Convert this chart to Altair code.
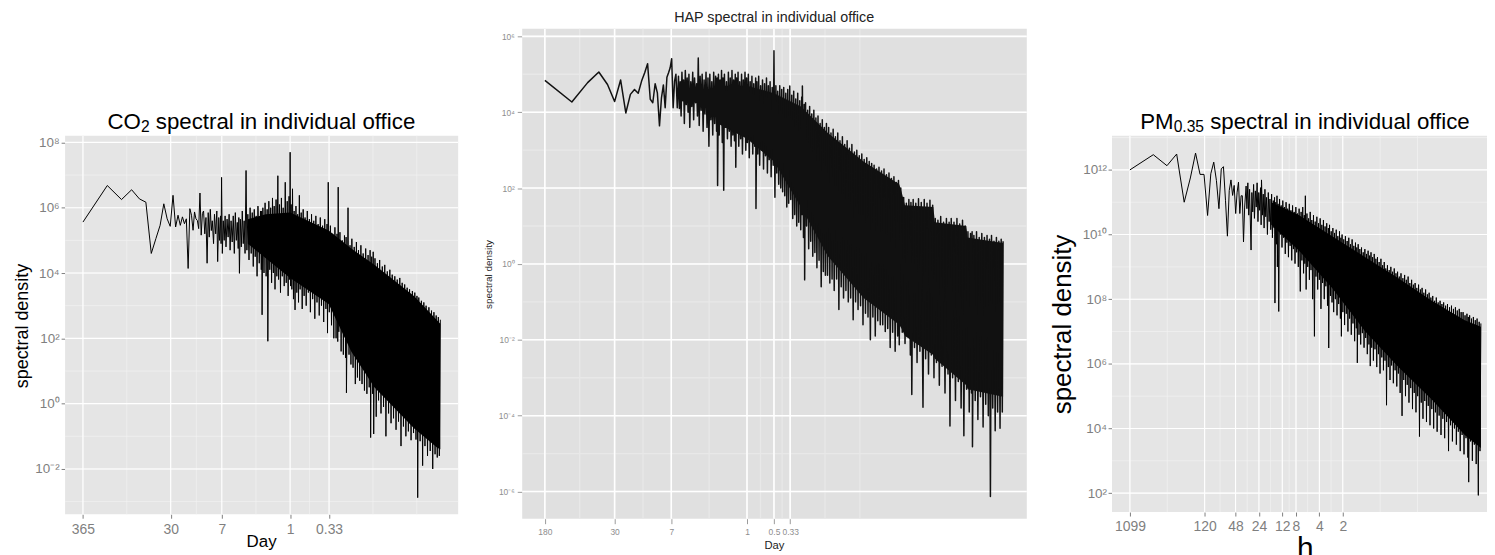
import math
import altair as alt
import pandas as pd

FONT = "Liberation Sans"
W, H = 1487, 547          # drawing area = window minus the 8px page margin
GREY50 = "#7F7F7F"

# ====================== DATA ======================
# Spectral densities are read off the log axes, so they are stored as log10 exponents.

# --- CO2 panel: frequency in cycles/day ---
co2_freq = [0.00274, 0.00548, 0.00822, 0.01096, 0.0137, 0.01644, 0.01918, 0.02192, 0.02466, 0.0274,
            0.03014, 0.03288, 0.03562, 0.03836, 0.0411, 0.04384, 0.04658, 0.04932, 0.05205, 0.05479,
            0.05753, 0.06027, 0.06301, 0.06575, 0.06849, 0.07123, 0.07397, 0.07671, 0.07945, 0.08219,
            0.085, 0.088, 0.091, 0.094, 0.097, 0.1, 0.103, 0.106, 0.109, 0.113,
            0.116, 0.12, 0.124, 0.127, 0.131, 0.134, 0.138, 0.14, 0.142, 0.145,
            0.149, 0.153, 0.157, 0.161, 0.166, 0.171, 0.176, 0.181, 0.186, 0.192,
            0.198, 0.204, 0.21, 0.216, 0.222, 0.228, 0.232, 0.236, 0.242, 0.249,
            0.256, 0.263, 0.27, 0.277, 0.285, 0.292,
            0.3, 0.31, 0.32, 0.33, 0.34, 0.35, 0.36, 0.37, 0.38, 0.39,
            0.4, 0.415, 0.43, 0.44, 0.445, 0.45, 0.46, 0.475, 0.49, 0.505,
            0.52, 0.53, 0.545, 0.56, 0.575, 0.59, 0.605, 0.62, 0.635, 0.65,
            0.67, 0.685, 0.705, 0.72, 0.74, 0.76, 0.78, 0.8, 0.82, 0.845,
            0.87, 0.895, 0.92, 0.945, 0.97, 0.985, 1.0, 1.015,
            1.03, 1.05, 1.07, 1.1, 1.12, 1.15, 1.18, 1.21, 1.24, 1.27,
            1.3, 1.33, 1.37, 1.41, 1.45, 1.49, 1.53, 1.58, 1.63, 1.68,
            1.73, 1.78, 1.84, 1.9, 1.96, 2.02, 2.08, 2.15, 2.22, 2.29,
            2.36, 2.44, 2.52, 2.6, 2.68, 2.77, 2.86, 2.9, 2.96, 3.05,
            3.15, 3.25, 3.36, 3.47, 3.58, 3.7, 3.8, 3.88, 3.93, 4.0,
            4.13, 4.27, 4.41, 4.55, 4.7, 4.85, 4.92, 4.97, 5.2, 5.35,
            5.5, 5.65, 5.8, 6.0, 6.2, 6.4, 6.6, 6.8, 7.0, 7.25,
            7.5, 7.75, 8.0, 8.3, 8.6, 8.9, 9.2, 9.5, 9.75, 9.9,
            10.2, 10.5, 10.65, 10.8,
            11.2, 11.6, 12.0, 12.4, 12.8, 13.3, 13.8, 14.3, 14.8, 15.3,
            15.9, 16.5, 17.1, 17.7, 18.3, 19.0, 19.7, 20.4, 21.1, 21.9,
            22.7, 23.5, 24.3, 25.2, 26.1, 27.0, 28.0, 29.0, 30.0, 31.3,
            32.5, 33.6, 34.8, 36.0, 37.0, 37.8, 39.0, 40.5, 42.0, 43.5,
            45.0, 46.5, 48.0, 50.0, 52.0, 54.0, 56.0, 58.0, 60.0, 62.0,
            64.0, 66.0, 68.0, 70.0, 72.0]
co2_log_psd = [5.56, 6.68, 6.25, 6.55, 6.27, 6.17, 4.60, 5.06, 5.46, 6.12,
               5.66, 5.43, 6.38, 5.41, 5.77, 5.46, 5.72, 5.51, 5.66, 4.14,
               5.97, 5.77, 5.31, 5.87, 5.66, 5.61, 5.36, 6.45, 5.16, 5.82,
               5.9, 5.2, 5.7, 4.3, 5.85, 5.1, 5.95, 5.3, 5.6, 4.9,
               5.8, 5.2, 5.9, 4.35, 5.7, 5.0, 5.75, 4.9, 6.93, 4.6,
               5.6, 5.0, 5.75, 4.8, 5.65, 5.1, 5.8, 4.7, 5.6, 4.95,
               5.75, 4.6, 5.85, 5.0, 5.55, 4.75, 5.7, 3.99, 5.65, 4.8,
               5.9, 4.9, 5.6, 4.6, 7.14, 4.7,
               5.8, 4.4, 6.0, 4.6, 5.85, 4.2, 5.95, 4.5, 5.75, 3.9,
               6.05, 4.3, 5.9, 4.1, 5.9, 2.72, 6.0, 4.0, 6.15, 3.9,
               5.95, 1.91, 6.2, 4.1, 6.0, 3.7, 6.3, 4.0, 6.05, 3.5,
               6.25, 3.9, 6.98, 3.8, 6.1, 3.4, 6.3, 3.9, 6.0, 3.6,
               6.78, 3.7, 6.2, 3.3, 6.35, 3.8, 7.7, 3.6,
               6.1, 3.5, 6.58, 3.2, 5.9, 2.87, 6.05, 3.4, 5.8, 3.1,
               6.38, 3.5, 5.85, 2.9, 5.95, 3.3, 5.7, 3.0, 5.9, 3.4,
               5.65, 2.8, 5.8, 3.2, 5.6, 2.6, 5.75, 3.1, 5.5, 2.7,
               5.7, 3.0, 5.45, 2.5, 5.65, 2.9, 5.5, 2.16, 6.78, 2.8,
               5.45, 2.4, 5.2, 2.0, 5.4, 2.0, 5.2, 1.9, 6.63, 2.2,
               5.25, 1.6, 5.0, 1.5, 5.15, 1.4, 5.1, 0.33, 6.0, 1.5,
               4.85, 1.2, 5.05, 1.1, 4.8, 0.6, 4.95, 0.8, 4.7, 0.7,
               4.85, 0.6, 4.6, 0.4, 4.75, 0.3, 4.55, 0.5, 4.7, -1.04,
               4.5, 0.3, 4.65, -0.93,
               4.45, -0.4, 4.3, 0.1, 4.4, -0.3, 4.2, -0.1, 4.25, -1.0,
               4.05, -0.3, 4.1, -0.6, 3.95, -0.45, 3.9, -0.8, 3.8, -0.55,
               3.85, -1.3, 3.7, -0.7, 3.65, -1.0, 3.55, -0.85, 3.5, -1.12,
               3.45, -0.9, 3.4, -1.1, 3.3, -2.88, 3.25, -1.15, 3.15, -1.9,
               3.1, -1.3, 3.0, -1.6, 2.95, -1.45, 2.85, -2.0, 2.8, -1.55,
               2.7, -1.65, 2.65, -1.6, 2.57]
co2_band_freq = [0.3, 0.5, 1.0, 3.0, 5.7, 11, 34, 66, 72]
co2_band_log_top = [5.65, 5.8, 5.85, 5.3, 4.75, 4.25, 3.3, 2.55, 2.45]
co2_band_log_bottom = [4.9, 4.45, 3.85, 3.05, 1.6, 0.5, -0.75, -1.35, -1.4]
co2_tick_days = [365, 30, 7, 1, 0.33]
co2_tick_exp = [-2, 0, 2, 4, 6, 8]

# --- HAP panel: frequency in cycles/day ---
hap_freq = [0.005556, 0.01111, 0.01667, 0.02222, 0.02778, 0.03333, 0.03889, 0.04444, 0.05, 0.05556,
            0.06111, 0.06667, 0.07222, 0.07778, 0.08333, 0.08889, 0.09444, 0.1, 0.1056, 0.1111,
            0.1167, 0.1222, 0.1278, 0.1333, 0.1389, 0.1444, 0.15, 0.1556, 0.1611, 0.1667,
            0.172, 0.176, 0.18, 0.184, 0.188, 0.192, 0.196, 0.2, 0.205, 0.21,
            0.215, 0.22, 0.225, 0.23, 0.236, 0.242, 0.248, 0.254, 0.26, 0.267,
            0.274, 0.28, 0.286, 0.293, 0.3, 0.308, 0.316, 0.324, 0.332, 0.34,
            0.349, 0.358, 0.367, 0.376, 0.385, 0.395, 0.405, 0.415, 0.425, 0.436,
            0.447, 0.458, 0.465, 0.47,
            0.48, 0.49, 0.5, 0.51, 0.52, 0.53, 0.54, 0.55, 0.56, 0.575,
            0.59, 0.605, 0.62, 0.635, 0.65, 0.665, 0.68, 0.695, 0.71, 0.725,
            0.74, 0.75, 0.765, 0.78, 0.795, 0.81, 0.83, 0.85, 0.87, 0.89,
            0.91, 0.93, 0.95, 0.97, 0.99, 1.01, 1.035, 1.06, 1.085, 1.11,
            1.135, 1.16, 1.19, 1.22, 1.25, 1.26, 1.29, 1.32, 1.35, 1.385,
            1.42, 1.455, 1.49, 1.53, 1.57, 1.61, 1.65, 1.69, 1.73, 1.77,
            1.81, 1.86, 1.91, 1.96, 2.0, 2.05,
            2.1, 2.15, 2.2, 2.26, 2.32, 2.38, 2.44, 2.5, 2.57, 2.64,
            2.71, 2.78, 2.85, 2.92, 3.0, 3.08, 3.16, 3.24, 3.32, 3.41,
            3.5, 3.59, 3.68, 3.78, 3.88, 3.98, 4.08, 4.12, 4.15, 4.27,
            4.35, 4.4, 4.5, 4.62, 4.75, 4.88, 5.0, 5.14, 5.28, 5.42,
            5.57, 5.72, 5.87, 6.03, 6.2, 6.37, 6.55, 6.73, 6.92, 7.11,
            7.3, 7.5, 7.7, 7.92,
            8.15, 8.4, 8.65, 8.9, 9.15, 9.4, 9.7, 10.0, 10.3, 10.6,
            10.9, 11.25, 11.6, 11.95, 12.3, 12.7, 13.1, 13.5, 13.9, 14.35,
            14.8, 15.3, 15.8, 16.3, 16.8, 17.35, 17.9, 18.5, 19.1, 19.7,
            20.3, 21.0, 21.7, 22.4, 23.1, 23.8, 24.6, 25.4, 26.2, 27.0,
            27.9, 28.8, 29.7, 30.7, 31.7, 32.7, 33.8, 34.9, 36.0, 37.2,
            38.4, 39.6, 40.9, 42.2, 43.6, 45.0, 46.5, 48.0, 49.0, 50.0,
            52, 54, 56, 58, 60, 62, 64, 66.5, 67.5, 69,
            71.5, 74, 76.5, 79, 82, 85, 88, 92, 95, 98.5,
            102, 106, 110, 114, 118, 122, 126, 130, 135, 140,
            145, 150, 156, 162, 168, 175, 180, 184, 190, 197,
            204, 212, 220, 228, 236, 245, 254, 263, 272, 282,
            292, 302, 312, 320, 325, 328, 340, 352, 364, 377,
            390, 403, 417, 431, 446, 461, 477, 493, 508, 520,
            535, 552, 570, 588, 607, 626, 646, 666, 686, 706,
            720]
hap_log_psd = [4.84, 4.27, 4.78, 5.06, 4.73, 4.28, 4.85, 3.98, 4.47, 4.60,
               4.50, 4.82, 5.04, 5.28, 4.34, 4.25, 4.75, 4.51, 3.64, 4.38,
               4.72, 4.12, 4.92, 5.04, 5.17, 5.41, 4.12, 4.82, 5.0, 4.12,
               4.95, 4.1, 4.8, 3.9, 5.05, 4.3, 4.85, 3.7, 5.1, 4.2,
               4.9, 4.0, 5.0, 3.6, 4.8, 4.15, 5.05, 3.8, 4.9, 4.25,
               4.75, 3.9, 5.43, 3.65, 4.95, 4.05, 5.0, 3.5, 4.85, 3.95,
               5.05, 3.6, 4.9, 3.1, 5.0, 3.8, 4.8, 3.4, 5.05, 3.7,
               4.95, 3.5, 4.9, 2.07,
               5.0, 3.4, 4.85, 3.7, 5.1, 3.2, 4.9, 1.94, 5.0, 3.6,
               4.8, 3.3, 5.05, 3.5, 4.9, 3.1, 5.1, 3.4, 4.85, 3.25,
               5.0, 2.55, 4.9, 3.5, 5.05, 3.1, 4.8, 3.3, 5.0, 2.9,
               4.85, 3.4, 5.05, 3.0, 4.9, 3.2, 5.0, 2.8, 4.8, 3.3,
               4.95, 2.9, 4.75, 3.1, 4.9, 1.46, 4.8, 2.9, 4.95, 2.6,
               4.7, 3.0, 4.85, 2.5, 4.75, 2.85, 4.9, 2.4, 4.7, 2.75,
               4.8, 2.3, 4.65, 2.6, 5.62, 1.76,
               4.7, 2.4, 4.55, 2.1, 4.7, 2.0, 4.6, 1.9, 4.65, 1.8,
               4.5, 1.5, 4.6, 1.6, 4.69, 1.7, 4.45, 1.2, 4.55, 1.3,
               4.35, 1.0, 4.5, 1.1, 4.3, 0.9, 4.4, 1.3, 4.69, 0.7,
               4.2, -0.42, 4.25, 1.0, 4.05, 0.4, 4.15, 0.6, 3.95, 0.2,
               4.05, 0.3, 3.85, -0.1, 3.9, 0.1, 3.7, -0.6, 3.8, -0.2,
               3.6, -0.3, 3.7, -0.3,
               3.6, -0.5, 3.45, -0.4, 3.55, -0.7, 3.35, -0.4, 3.45, -1.2,
               3.25, -0.6, 3.35, -0.9, 3.15, -0.7, 3.25, -1.0, 3.05, -0.9,
               3.15, -1.47, 2.95, -1.0, 3.0, -1.2, 2.85, -1.1, 2.9, -1.6,
               2.75, -1.3, 2.8, -1.4, 2.7, -2.0, 2.65, -1.4, 2.6, -1.9,
               2.5, -1.5, 2.55, -1.6, 2.45, -1.6, 2.5, -1.78, 2.35, -1.7,
               2.4, -2.2, 2.25, -1.8, 2.3, -2.3, 2.15, -1.9, 2.2, -2.13,
               2.0, -1.8, 1.75, -2.1, 1.6, -1.9, 1.7, -2.4, 1.62, -3.44,
               1.7, -2.2, 1.6, -2.6, 1.72, -2.3, 1.62, -3.78, 1.7, -2.5,
               1.6, -2.9, 1.68, -2.4, 1.55, -3.0, 1.2, -2.6, 1.15, -3.2,
               1.25, -2.7, 1.1, -3.4, 1.2, -2.9, 1.1, -4.27, 1.2, -3.0,
               1.1, -3.6, 1.2, -3.1, 1.05, -3.8, 1.15, -4.53, 1.0, -3.3,
               0.85, -3.9, 0.8, -3.4, 0.85, -4.82, 0.75, -3.6, 0.85, -4.1,
               0.7, -3.5, 0.8, -4.3, 0.7, -3.7, 0.75, -4.0, 0.65, -6.13,
               0.75, -3.8, 0.6, -4.4, 0.7, -3.9, 0.6, -4.33, 0.65, -3.9,
               0.6]
hap_band_freq = [0.47, 1.0, 2.0, 4.0, 8.0, 20, 50, 53, 58, 120, 125, 280, 290, 720]
hap_band_log_top = [4.7, 4.7, 4.5, 4.15, 3.45, 2.7, 2.1, 1.9, 1.55, 1.5, 1.1, 1.0, 0.7, 0.55]
hap_band_log_bottom = [3.7, 3.3, 2.7, 1.5, 0.2, -0.9, -1.6, -1.7, -1.9, -2.4, -2.5, -3.2, -3.3, -3.5]
hap_tick_days = [180, 30, 7, 1, 0.5, 0.33]
hap_tick_exp = [-6, -4, -2, 0, 2, 4, 6]

# --- PM0.35 panel: frequency in cycles/hour ---
pm_freq = [0.00091, 0.00182, 0.00273, 0.00364, 0.00455, 0.00546, 0.00637, 0.00728, 0.00819, 0.0091,
           0.01001, 0.01092, 0.01183, 0.01274, 0.01365, 0.01456, 0.01547, 0.01638, 0.01729, 0.0182,
           0.01911, 0.02002, 0.02093, 0.02184, 0.02275, 0.02366, 0.02457, 0.02548, 0.02639, 0.0273,
           0.0285, 0.0292, 0.03, 0.0308, 0.0316, 0.033, 0.0338, 0.0347, 0.0356, 0.0365,
           0.0375, 0.0385, 0.0395, 0.0405, 0.0415, 0.0426, 0.0437, 0.0445, 0.045, 0.0462,
           0.0474, 0.0486, 0.0498, 0.051, 0.0523, 0.0536, 0.055, 0.0564, 0.0578, 0.0592,
           0.0607, 0.0622, 0.0638, 0.0654, 0.0662, 0.067, 0.0686, 0.0703, 0.0712, 0.072,
           0.0735, 0.075, 0.0768, 0.0787, 0.0806, 0.0826, 0.0846, 0.0867, 0.0888, 0.091,
           0.0932, 0.0955, 0.0978, 0.1, 0.1025, 0.105, 0.1076, 0.1102, 0.113, 0.1158,
           0.1186, 0.1215, 0.1245, 0.1276, 0.1307, 0.1339, 0.1372, 0.142,
           0.1455, 0.149, 0.1527, 0.1565, 0.16, 0.1625, 0.165, 0.169, 0.173, 0.177,
           0.1815, 0.186, 0.1905, 0.195, 0.2, 0.205, 0.21, 0.216, 0.221, 0.226,
           0.232, 0.238, 0.244, 0.25, 0.256, 0.262, 0.269, 0.275, 0.282, 0.289,
           0.296, 0.303, 0.311, 0.318, 0.326, 0.33, 0.338, 0.347, 0.355, 0.364,
           0.373, 0.382, 0.392, 0.402, 0.412, 0.422, 0.432, 0.443, 0.454, 0.466,
           0.473, 0.48, 0.49, 0.502, 0.515, 0.528, 0.541, 0.555, 0.569, 0.583,
           0.598, 0.613, 0.628, 0.644, 0.66, 0.677, 0.694, 0.711, 0.729, 0.747,
           0.758, 0.77, 0.79, 0.81, 0.83, 0.851, 0.872, 0.894, 0.917, 0.94,
           0.963, 0.987,
           1.01, 1.035, 1.06, 1.087, 1.11, 1.13, 1.155, 1.18, 1.21, 1.24,
           1.27, 1.3, 1.335, 1.37, 1.4, 1.44, 1.47, 1.51, 1.55, 1.59,
           1.63, 1.67, 1.71, 1.75, 1.79, 1.83, 1.88, 1.93, 1.98, 2.03,
           2.08, 2.13, 2.19, 2.24, 2.3, 2.36, 2.42, 2.48, 2.54, 2.6,
           2.67, 2.74, 2.81, 2.9, 2.97, 3.05, 3.13, 3.21, 3.29, 3.38,
           3.47, 3.56, 3.65, 3.75, 3.85, 3.95, 4.05, 4.16, 4.27, 4.38,
           4.49, 4.61, 4.73, 4.86, 4.99, 5.12, 5.25, 5.39, 5.53, 5.68,
           5.83, 5.98, 6.14, 6.3, 6.47, 6.64, 6.81, 7.0,
           7.2, 7.4, 7.6, 7.8, 8.0, 8.2, 8.45, 8.7, 8.95, 9.2,
           9.45, 9.7, 9.95, 10.25, 10.55, 10.85, 11.15, 11.5, 11.85, 12.2,
           12.55, 12.9, 13.3, 13.7, 14.1, 14.5, 14.9, 15.35, 15.8, 16.25,
           16.7, 17.2, 17.7, 18.2, 18.75, 19.3, 19.85, 20.4, 20.65, 20.9,
           21.5, 22.1, 22.7, 23.3, 24.0, 24.7, 25.4, 26.1, 26.8, 27.8,
           28.5, 29.2, 30.0]
pm_log_psd = [12.0, 12.47, 12.13, 12.49, 11.0, 11.75, 12.52, 11.86, 11.86, 10.59,
              11.88, 12.24, 11.67, 10.8, 12.03, 12.1, 11.06, 9.95, 11.36, 11.69,
              11.21, 11.52, 10.65, 11.31, 11.62, 10.65, 11.2, 11.2, 9.77, 10.85,
              11.5, 10.8, 11.6, 10.6, 11.4, 9.52, 11.3, 10.7, 11.55, 10.5,
              11.35, 10.85, 11.6, 10.4, 11.3, 10.75, 11.45, 10.3, 11.69, 10.6,
              11.25, 10.2, 11.4, 10.55, 11.15, 10.0, 11.3, 10.4, 11.1, 10.15,
              11.25, 9.9, 11.05, 10.2, 11.15, 7.88, 11.0, 9.7, 11.2, 9.0,
              10.95, 7.62, 11.1, 10.0, 10.9, 9.6, 11.05, 9.9, 10.85, 9.4,
              11.0, 9.75, 10.8, 9.3, 10.95, 9.65, 10.75, 9.2, 10.9, 9.55,
              10.7, 9.1, 10.85, 9.45, 10.65, 9.0, 10.8, 8.24,
              10.7, 9.2, 10.85, 8.8, 10.6, 9.1, 11.2, 8.3, 10.65, 9.0,
              10.5, 8.6, 10.7, 8.9, 10.45, 8.0, 10.6, 6.85, 10.4, 8.7,
              10.55, 8.3, 10.35, 8.6, 10.5, 7.7, 10.3, 8.5, 10.45, 8.0,
              10.25, 8.4, 10.35, 7.8, 10.2, 6.49, 10.3, 8.1, 10.1, 7.9,
              10.2, 7.6, 10.05, 8.0, 10.15, 7.5, 9.95, 7.85, 10.1, 7.4,
              9.9, 6.85, 10.0, 7.6, 9.85, 7.2, 9.95, 7.55, 9.8, 7.0,
              9.9, 7.4, 9.7, 6.9, 9.85, 7.25, 9.65, 6.7, 9.75, 7.1,
              9.6, 6.03, 9.7, 6.9, 9.55, 6.6, 9.6, 6.95, 9.45, 6.5,
              9.55, 6.8,
              9.4, 6.3, 9.5, 6.6, 9.35, 5.93, 9.45, 6.5, 9.3, 6.1,
              9.4, 6.45, 9.25, 5.9, 9.3, 6.3, 9.15, 5.7, 9.25, 6.2,
              9.05, 5.8, 9.15, 6.1, 8.95, 4.72, 9.05, 5.9, 8.9, 5.5,
              9.0, 5.95, 8.85, 5.4, 8.95, 5.8, 8.8, 5.3, 8.85, 5.7,
              8.7, 5.1, 8.8, 4.39, 8.65, 5.5, 8.75, 5.0, 8.6, 5.35,
              8.7, 4.8, 8.5, 5.25, 8.6, 4.6, 8.45, 5.1, 8.5, 4.5,
              8.35, 5.0, 8.45, 3.75, 8.3, 4.8, 8.35, 4.3, 8.2, 4.85,
              8.3, 4.2, 8.15, 4.7, 8.2, 4.1, 8.05, 4.6,
              8.1, 4.0, 7.95, 4.5, 8.05, 3.9, 7.9, 4.4, 7.95, 3.8,
              7.85, 4.3, 7.9, 3.7, 7.8, 4.2, 7.85, 3.3, 7.75, 4.1,
              7.8, 3.6, 7.7, 4.0, 7.75, 3.5, 7.65, 3.9, 7.7, 3.3,
              7.6, 3.8, 7.6, 3.2, 7.5, 3.7, 7.55, 3.1, 7.45, 2.34,
              7.5, 3.6, 7.4, 3.0, 7.45, 3.5, 7.35, 2.9, 7.4, 1.93,
              7.3, 3.3, 7.25]
pm_band_freq = [0.06, 0.137, 0.365, 0.975, 2.6, 7.0, 18.6, 30]
pm_band_log_top = [11.0, 10.6, 9.95, 9.3, 8.65, 7.95, 7.35, 7.15]
pm_band_log_bottom = [10.3, 9.5, 8.35, 7.0, 5.9, 4.9, 3.8, 3.4]
pm_tick_hours = [1099, 120, 48, 24, 12, 8, 4, 2]
pm_tick_exp = [2, 4, 6, 8, 10, 12]

# ====================== STYLE / LAYOUT ======================
SUP = "['\u2070','\u00b9','\u00b2','\u00b3','\u2074','\u2075','\u2076','\u2077','\u2078','\u2079']"
EXP = "round(log(datum.value)/LN10)"
Y_LABEL_EXPR = ("'10' + (" + EXP + " < 0 ? '\u207b' : '') + (abs(" + EXP + ") >= 10 ? " + SUP
                + "[floor(abs(" + EXP + ")/10)] : '') + " + SUP + "[abs(" + EXP + ") % 10]")
X_LABEL_EXPR = "format(1 / datum.value, '~g')"

L1 = dict(x0=57.4, x1=452.6, y0=127, y1=507.5, xlog=(-2.783, 2.078), ylog=(-3.387, 8.203),
          bg="#E5E5E5", major_w=1.1, minor_c="#F2F2F2", minor_w=0.7,
          tick_c=GREY50, tick_size=4, lab_c=GREY50, xlab_size=14, ylab_size=13.5,
          xlab_pad=4, ylab_pad=2,
          xtitle="Day", xtitle_size=17, xtitle_x=254.5, xtitle_y=32.8,
          ytitle="spectral density", ytitle_size=18, ytitle_x=-37.5, ytitle_y=317.8,
          title_c="black", line_c="black", line_w=1.0, band_c="black")
L2 = dict(x0=517, x1=1024.3, y0=19.3, y1=512, xlog=(-2.508, 3.122), ylog=(-6.716, 6.202),
          bg="#E0E0E0", major_w=1.6, minor_c="#E8E8E8", minor_w=1.3,
          tick_c="#9A9A9A", tick_size=5, lab_c="#8E8E8E", xlab_size=8.5, ylab_size=8.5,
          xlab_pad=4, ylab_pad=3,
          xtitle="Day", xtitle_size=11.3, xtitle_x=770, xtitle_y=29.8,
          ytitle="spectral density", ytitle_size=10, ytitle_x=-31.1, ytitle_y=266,
          title_c="#222222", line_c="#111111", line_w=1.5, band_c="#111111")
L3 = dict(x0=1110, x1=1498.5, y0=127, y1=505.3, xlog=(-3.271, 1.703), ylog=(1.415, 13.055),
          bg="#E5E5E5", major_w=1.1, minor_c="#F2F2F2", minor_w=0.7,
          tick_c=GREY50, tick_size=4, lab_c=GREY50, xlab_size=14, ylab_size=13.5,
          xlab_pad=4, ylab_pad=1.5,
          xtitle="h", xtitle_size=30, xtitle_x=1303.7, xtitle_y=45.4,
          ytitle="spectral density", ytitle_size=26, ytitle_x=-41.8, ytitle_y=316.2,
          title_c="black", line_c="black", line_w=1.0, band_c="black")


def minor_logs(major_logs, lo, hi):
    """ggplot2-style minor breaks (majors + midpoints, extended by one step)."""
    b = sorted(major_logs)
    bd = b[1] - b[0]
    if lo < b[0]:
        b = [b[0] - bd] + b
    if hi > b[-1]:
        b = b + [b[-1] + bd]
    out = list(b) + [(b[i] + b[i + 1]) / 2 for i in range(len(b) - 1)]
    return [v for v in out if lo <= v <= hi]


def build_panel(freq, log_psd, bfreq, blog_top, blog_bot, tick_periods, tick_exp, L):
    xlo, xhi = L["xlog"]
    ylo, yhi = L["ylog"]
    xdom = [10 ** xlo, 10 ** xhi]
    ydom = [10 ** ylo, 10 ** yhi]
    xs = alt.Scale(type="log", domain=xdom, range=[L["x0"], L["x1"]], nice=False)
    ys = alt.Scale(type="log", domain=ydom, range=[L["y1"], L["y0"]], nice=False)
    major_x = [1.0 / p for p in tick_periods]
    major_y = [10.0 ** e for e in tick_exp]
    xaxis = alt.Axis(orient="bottom", offset=L["y1"] - H, values=major_x, labelExpr=X_LABEL_EXPR,
                     grid=False, domain=False, ticks=True, tickSize=L["tick_size"],
                     tickColor=L["tick_c"], tickWidth=1, labelColor=L["lab_c"], labelFont=FONT,
                     labelFontSize=L["xlab_size"], labelPadding=L["xlab_pad"],
                     labelOverlap=False, labelFlush=False,
                     title=L["xtitle"], titleFont=FONT, titleFontSize=L["xtitle_size"],
                     titleFontWeight="normal", titleColor=L["title_c"], titleX=L["xtitle_x"],
                     titleY=L["xtitle_y"], titleAlign="center", titleBaseline="alphabetic",
                     titleAngle=0)
    yaxis = alt.Axis(orient="left", offset=-L["x0"], values=major_y, labelExpr=Y_LABEL_EXPR,
                     grid=False, domain=False, ticks=True, tickSize=L["tick_size"],
                     tickColor=L["tick_c"], tickWidth=1, labelColor=L["lab_c"], labelFont=FONT,
                     labelFontSize=L["ylab_size"], labelPadding=L["ylab_pad"],
                     labelOverlap=False, labelFlush=False,
                     title=L["ytitle"], titleFont=FONT, titleFontSize=L["ytitle_size"],
                     titleFontWeight="normal", titleColor=L["title_c"], titleX=L["ytitle_x"],
                     titleY=L["ytitle_y"], titleAlign="center", titleBaseline="alphabetic",
                     titleAngle=270)

    def X(f):
        return alt.X(f + ":Q", scale=xs, axis=xaxis)

    def Y(f):
        return alt.Y(f + ":Q", scale=ys, axis=yaxis)

    minor_x = [10 ** v for v in minor_logs([math.log10(v) for v in major_x], xlo, xhi)]
    minor_y = [10 ** v for v in minor_logs(tick_exp, ylo, yhi)]

    line_df = pd.DataFrame({"f": freq, "psd": [10.0 ** v for v in log_psd]})
    band_df = pd.DataFrame({"f": bfreq, "top": [10.0 ** v for v in blog_top],
                            "bottom": [10.0 ** v for v in blog_bot]})

    bg = alt.Chart(pd.DataFrame({"xa": [xdom[0]], "xb": [xdom[1]], "ya": [ydom[0]], "yb": [ydom[1]]})
                   ).mark_rect(color=L["bg"]).encode(x=X("xa"), x2="xb", y=Y("ya"), y2="yb")
    vminor = alt.Chart(pd.DataFrame({"v": minor_x, "lo": ydom[0], "hi": ydom[1]})).mark_rule(
        color=L["minor_c"], strokeWidth=L["minor_w"]).encode(x=X("v"), y=Y("lo"), y2="hi")
    hminor = alt.Chart(pd.DataFrame({"v": minor_y, "lo": xdom[0], "hi": xdom[1]})).mark_rule(
        color=L["minor_c"], strokeWidth=L["minor_w"]).encode(y=Y("v"), x=X("lo"), x2="hi")
    vmajor = alt.Chart(pd.DataFrame({"v": major_x, "lo": ydom[0], "hi": ydom[1]})).mark_rule(
        color="white", strokeWidth=L["major_w"]).encode(x=X("v"), y=Y("lo"), y2="hi")
    hmajor = alt.Chart(pd.DataFrame({"v": major_y, "lo": xdom[0], "hi": xdom[1]})).mark_rule(
        color="white", strokeWidth=L["major_w"]).encode(y=Y("v"), x=X("lo"), x2="hi")
    band = alt.Chart(band_df).mark_area(color=L["band_c"], opacity=1).encode(
        x=X("f"), y=Y("top"), y2="bottom")
    line = alt.Chart(line_df).mark_line(
        color=L["line_c"], strokeWidth=L["line_w"], strokeJoin="round").encode(x=X("f"), y=Y("psd"))
    return alt.layer(bg, vminor, hminor, vmajor, hmajor, band, line)


# Arial / Liberation Sans advance widths (1/1000 em) for title layout
AW = {" ": 278, "C": 722, "O": 778, "P": 667, "M": 833, "H": 722, "A": 667, "s": 500, "p": 556,
      "e": 556, "c": 500, "t": 278, "r": 333, "a": 556, "l": 222, "i": 222, "n": 556, "d": 556,
      "v": 500, "u": 556, "o": 556, "f": 278, "0": 556, "1": 556, "2": 556, "3": 556, "5": 556,
      ".": 278}


def text_width(s, size):
    return sum(AW.get(c, 556) for c in s) / 1000.0 * size


def title_pieces(pieces, cx, baseline, color="black"):
    total = sum(text_width(t, s) for t, s, _ in pieces)
    x = cx - total / 2.0
    charts = []
    for t, s, dy in pieces:
        lead = len(t) - len(t.lstrip(" "))          # SVG drops leading blanks: shift instead
        shown = t.lstrip(" ")
        charts.append(
            alt.Chart(pd.DataFrame({"t": [shown]})).mark_text(
                font=FONT, fontSize=s, align="left", baseline="alphabetic", color=color
            ).encode(x=alt.value(x + text_width(" " * lead, s)), y=alt.value(baseline + dy),
                     text="t:N")
        )
        x += text_width(t, s)
    return charts


p1 = build_panel(co2_freq, co2_log_psd, co2_band_freq, co2_band_log_top, co2_band_log_bottom,
                 co2_tick_days, co2_tick_exp, L1)
p2 = build_panel(hap_freq, hap_log_psd, hap_band_freq, hap_band_log_top, hap_band_log_bottom,
                 hap_tick_days, hap_tick_exp, L2)
p3 = build_panel(pm_freq, pm_log_psd, pm_band_freq, pm_band_log_top, pm_band_log_bottom,
                 [1.0 * h for h in pm_tick_hours], pm_tick_exp, L3)

rest = " spectral in individual office"
titles = []
titles += title_pieces([("CO", 22.4, 0), ("2", 15.7, 3.6), (rest, 22.4, 0)],
                       (L1["x0"] + L1["x1"]) / 2, 120)
titles += title_pieces([("HAP spectral in individual office", 14.4, 0)],
                       (L2["x0"] + L2["x1"]) / 2, 12.7, color="#222222")
titles += title_pieces([("PM", 22.4, 0), ("0.35", 15.7, 3.6), (rest, 22.4, 0)],
                       (L3["x0"] + L3["x1"]) / 2, 120)

chart = (
    alt.layer(p1, p2, p3, *titles)
    .resolve_scale(x="independent", y="independent")
    .properties(width=W, height=H, autosize=alt.AutoSizeParams(type="none"),
                padding=0, background="white")
    .configure_view(strokeWidth=0)
)

chart.save("out.html", embed_options={"renderer": "svg", "actions": False})
